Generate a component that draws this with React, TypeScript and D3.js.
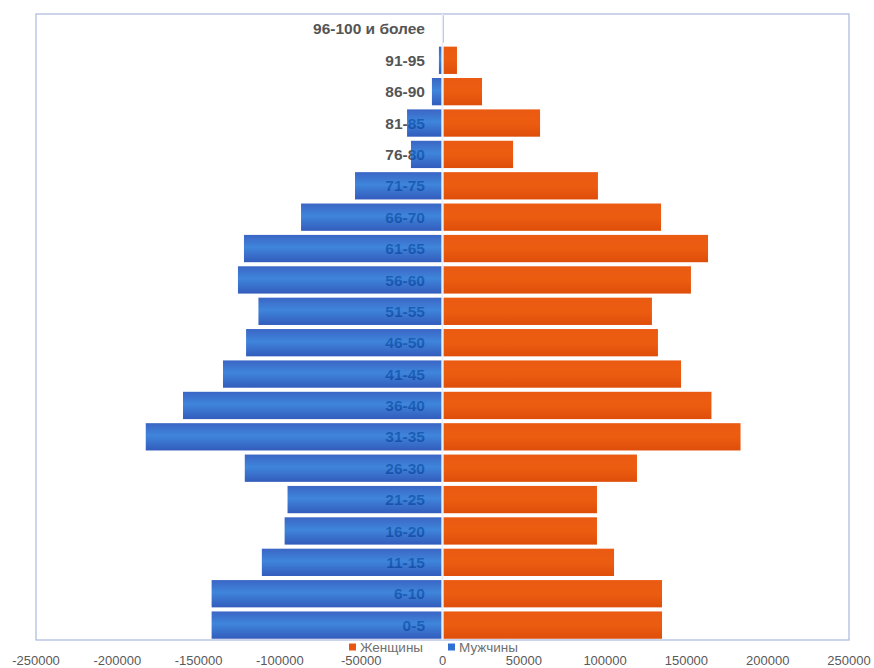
import React from 'react';
import * as d3 from 'd3';

const ageGroups = [
  '0-5', '6-10', '11-15', '16-20', '21-25', '26-30', '31-35', '36-40', '41-45', '46-50',
  '51-55', '56-60', '61-65', '66-70', '71-75', '76-80', '81-85', '86-90', '91-95', '96-100 и более',
];
const women = [
  135000, 135000, 105500, 95000, 95000, 119600, 183300, 165400, 146700, 132500,
  128800, 152800, 163300, 134400, 95600, 43400, 60000, 24300, 8900, 900,
];
const men = [
  142000, 142000, 111100, 97100, 95300, 121600, 182500, 159600, 135000, 120800,
  113200, 125800, 122100, 87000, 53800, 19400, 21800, 6500, 2200, 600,
];
const xTicks = [-250000, -200000, -150000, -100000, -50000, 0, 50000, 100000, 150000, 200000, 250000];
const legendItems = [
  { name: 'Женщины', color: '#e8560f' },
  { name: 'Мужчины', color: '#2f6fd2' },
];

const width = 874;
const height = 668;
const plot = { left: 36, right: 849, top: 14, bottom: 640 };

const App = () => {
  const x = d3.scaleLinear().domain([-250000, 250000]).range([plot.left, plot.right]);
  const y = d3
    .scaleBand()
    .domain([...ageGroups].reverse())
    .range([plot.top, plot.bottom])
    .paddingInner(0.13)
    .paddingOuter(0.04);
  const x0 = x(0);

  return (
    <svg
      width={width}
      height={height}
      style={{ position: 'absolute', left: 0, top: 0, background: '#fff' }}
      fontFamily="'Liberation Sans', Arial, sans-serif"
    >
      <defs>
        {/* blue bars are a bit see-through so the age labels behind them show faintly */}
        <linearGradient id="blueGrad" x1="0" y1="0" x2="0" y2="1">
          <stop offset="0%" stopColor="#0a3fb6" />
          <stop offset="45%" stopColor="#0f67d2" />
          <stop offset="100%" stopColor="#0033ac" />
        </linearGradient>
        <linearGradient id="orangeGrad" x1="0" y1="0" x2="0" y2="1">
          <stop offset="0%" stopColor="#ea5a12" />
          <stop offset="50%" stopColor="#ec5c10" />
          <stop offset="100%" stopColor="#de4e0a" />
        </linearGradient>
      </defs>

      <rect
        x={plot.left}
        y={plot.top}
        width={plot.right - plot.left}
        height={plot.bottom - plot.top}
        fill="#fff"
        stroke="#a9b8dc"
        strokeWidth={1.2}
      />

      {ageGroups.map((g) => (
        <text
          key={'l' + g}
          x={425}
          y={(y(g) as number) + y.bandwidth() / 2}
          dy="0.36em"
          textAnchor="end"
          fontSize={15.5}
          fontWeight="bold"
          fill="#555555"
        >
          {g}
        </text>
      ))}

      {ageGroups.map((g, i) => (
        <g key={g}>
          <rect
            x={x(-men[i])}
            y={y(g)}
            width={x0 - x(-men[i]) - 1}
            height={y.bandwidth()}
            fill="url(#blueGrad)"
            fillOpacity={0.8}
          />
          <rect
            x={x0 + 1}
            y={y(g)}
            width={Math.max(x(women[i]) - x0 - 1, 0.5)}
            height={y.bandwidth()}
            fill="url(#orangeGrad)"
          />
        </g>
      ))}

      <line x1={x0} x2={x0} y1={plot.top} y2={plot.bottom} stroke="#e8edf6" strokeWidth={1.5} />

      {xTicks.map((t) => (
        <text key={t} x={x(t)} y={660} dy="0.36em" textAnchor="middle" fontSize={13} fill="#595959">
          {String(t)}
        </text>
      ))}

      <g transform="translate(349,647)">
        {legendItems.map((item, i) => {
          const offset = i * 99;
          return (
            <g key={item.name} transform={`translate(${offset},0)`}>
              <rect x={0} y={-3.5} width={7} height={7} fill={item.color} />
              <text x={11} y={0} dy="0.36em" fontSize={13.5} fill="#707070">
                {item.name}
              </text>
            </g>
          );
        })}
      </g>
    </svg>
  );
};

export default App;
